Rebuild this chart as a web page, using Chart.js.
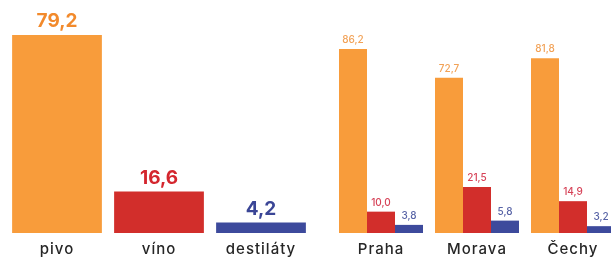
<!DOCTYPE html>
<html><head><meta charset="utf-8">
<script src="https://cdn.jsdelivr.net/npm/chart.js@4/dist/chart.umd.min.js"></script>
<style>
html,body{margin:0;padding:0;background:#fff;overflow:hidden;width:611px;height:258px;}
canvas{position:absolute;top:0;}
#c1{left:6px;} #c2{left:333px;}
</style></head><body>
<canvas id="c1" width="306" height="266"></canvas>
<canvas id="c2" width="288" height="266"></canvas>
<script>
const totalCategories = ['pivo', 'víno', 'destiláty'];
const totalValues = [79.2, 16.6, 4.2];
const regionCategories = ['Praha', 'Morava', 'Čechy'];
const beerValues = [86.2, 72.7, 81.8];
const wineValues = [10.0, 21.5, 14.9];
const spiritValues = [3.8, 5.8, 3.2];

const ORANGE = '#F89C3B', RED = '#D22E2B', BLUE = '#3D4A9C';
const FONT = "Inter, 'Noto Sans', sans-serif";

function fmt(v){ return v.toFixed(1).replace('.', ','); }

const spacing = {
  id: 'spacing',
  beforeDraw(chart){ chart.ctx.letterSpacing = '1px'; }
};

function valueLabels(opts){
  return {
    id: 'valueLabels',
    afterDatasetsDraw(chart){
      const ctx = chart.ctx;
      ctx.save();
      ctx.letterSpacing = opts.spacing;
      ctx.textAlign = 'center';
      ctx.textBaseline = 'bottom';
      chart.data.datasets.forEach((ds, di) => {
        const meta = chart.getDatasetMeta(di);
        meta.data.forEach((el, i) => {
          const col = Array.isArray(opts.colors[di]) ? opts.colors[di][i] : opts.colors[di];
          ctx.fillStyle = col;
          ctx.font = opts.font;
          ctx.fillText(fmt(ds.data[i]), el.x, el.y - opts.offset);
        });
      });
      ctx.restore();
    }
  };
}

const xAxis = {
  grid: { display: false, drawTicks: false },
  border: { display: false },
  ticks: { color: '#262626', font: { family: FONT, size: 15, weight: '500', lineHeight: 1 }, padding: 9 }
};

new Chart(document.getElementById('c1'), {
  type: 'bar',
  data: {
    labels: totalCategories,
    datasets: [{ data: totalValues, backgroundColor: [ORANGE, RED, BLUE], barPercentage: 1, categoryPercentage: 0.88 }]
  },
  options: {
    responsive: false, animation: false,
    layout: { padding: 0 },
    plugins: { legend: { display: false }, tooltip: { enabled: false } },
    scales: { x: xAxis, y: { display: false, min: 0, max: 93.2 } }
  },
  plugins: [spacing, valueLabels({ colors: [['#F28A2C', '#D4262E', '#3A4596']], font: "bold 19px " + FONT, offset: 4, spacing: '0px' })]
});

new Chart(document.getElementById('c2'), {
  type: 'bar',
  data: {
    labels: regionCategories,
    datasets: [
      { data: beerValues, backgroundColor: ORANGE, barPercentage: 1, categoryPercentage: 0.875 },
      { data: wineValues, backgroundColor: RED, barPercentage: 1, categoryPercentage: 0.875 },
      { data: spiritValues, backgroundColor: BLUE, barPercentage: 1, categoryPercentage: 0.875 }
    ]
  },
  options: {
    responsive: false, animation: false,
    layout: { padding: 0 },
    plugins: { legend: { display: false }, tooltip: { enabled: false } },
    scales: { x: xAxis, y: { display: false, min: 0, max: 109.1 } }
  },
  plugins: [spacing, valueLabels({ colors: ['#F2A257', '#D64257', '#5763A6'], font: "500 10px " + FONT, offset: 4, spacing: '0px' })]
});
</script>
</body></html>
